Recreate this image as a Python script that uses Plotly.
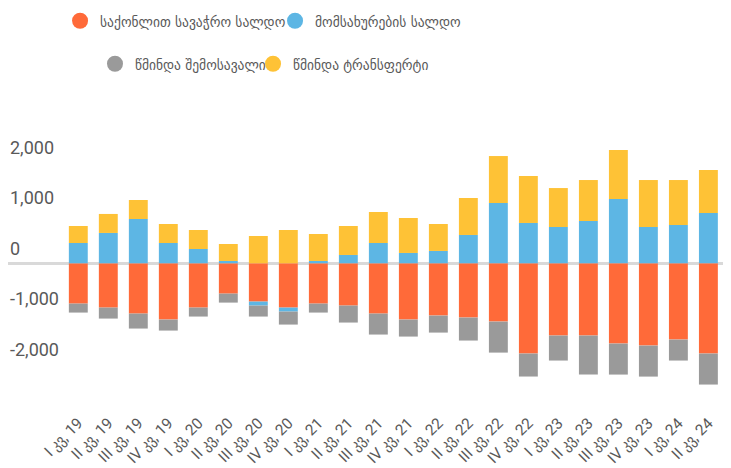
import plotly.graph_objects as go

categories = ["I კვ, 19", "II კვ, 19", "III კვ, 19", "IV კვ, 19",
              "I კვ, 20", "II კვ, 20", "III კვ, 20", "IV კვ, 20",
              "I კვ, 21", "II კვ, 21", "III კვ, 21", "IV კვ, 21",
              "I კვ, 22", "II კვ, 22", "III კვ, 22", "IV კვ, 22",
              "I კვ, 23", "II კვ, 23", "III კვ, 23", "IV კვ, 23",
              "I კვ, 24", "II კვ, 24"]

goods_balance = [-800, -879, -998, -1117, -879, -602, -760, -879, -800, -839, -998,
                 -1117, -1038, -1077, -1157, -1791, -1434, -1434, -1593, -1633, -1514, -1791]
services_balance = [403, 602, 879, 403, 284, 46, -79, -79, 46, 165, 403,
                    205, 245, 562, 1196, 800, 720, 839, 1276, 720, 760, 998]
net_income = [-178, -218, -297, -218, -178, -178, -218, -258, -178, -337, -416,
              -337, -337, -456, -615, -456, -496, -773, -615, -615, -416, -615]
net_transfers = [337, 377, 377, 377, 377, 337, 542, 661, 535, 575, 615,
                 694, 535, 734, 932, 932, 773, 813, 972, 932, 892, 853]

series_names = ["საქონლით სავაჭრო სალდო", "მომსახურების სალდო",
                "წმინდა შემოსავალი", "წმინდა ტრანსფერტი"]
colors = ["#FF6A39", "#5DB6E4", "#9A9A9A", "#FEC236"]
legend_ids = ["legend", "legend2", "legend3", "legend4"]

y_tick_vals = [2000, 1000, 0, -1000, -2000]
y_tick_text = [f"{v:,}" for v in y_tick_vals]

FONT = "Roboto, DejaVu Sans Condensed, DejaVu Sans"
GEO_FONT = "DejaVu Sans Condensed, DejaVu Sans"
TXT = "#595959"

fig = go.Figure()
data = [goods_balance, services_balance, net_income, net_transfers]
for vals, name, col in zip(data, series_names, colors):
    fig.add_trace(go.Bar(x=list(range(len(categories))), y=vals, name=name,
                         marker=dict(color=col, line=dict(width=0)),
                         showlegend=False))

# legend entries with round markers
for name, col, lg in zip(series_names, colors, legend_ids):
    fig.add_trace(go.Scatter(x=[None], y=[None], mode="markers", name=name,
                             marker=dict(symbol="circle", size=16, color=col),
                             legend=lg, showlegend=True))

legend_common = dict(orientation="h", xanchor="left", yanchor="middle",
                     xref="container", yref="container",
                     font=dict(family=GEO_FONT, size=15, color=TXT),
                     bgcolor="rgba(0,0,0,0)", itemclick=False,
                     tracegroupgap=0, itemwidth=30)

# y tick labels sit above their (invisible) gridlines, left-aligned
annotations = [dict(x=0, xref="paper", xanchor="left", y=v, yref="y",
                    yanchor="middle", yshift=15, text=t, showarrow=False,
                    font=dict(family=FONT, size=18, color=TXT))
               for v, t in zip(y_tick_vals, y_tick_text)]

fig.update_layout(
    width=731, height=468,
    template="none",
    margin=dict(l=0, r=0, t=92, b=66, pad=0, autoexpand=False),
    paper_bgcolor="white", plot_bgcolor="white",
    barmode="relative", bargap=0.37,
    font=dict(family=FONT, color=TXT),
    legend=dict(x=0.0712, y=0.9722, **legend_common),
    legend2=dict(x=0.3653, y=0.9722, **legend_common),
    legend3=dict(x=0.119, y=0.8803, **legend_common),
    legend4=dict(x=0.3352, y=0.8803, **legend_common),
    annotations=annotations,
    xaxis=dict(range=[-2.343, 22.02], tickmode="array",
               tickvals=list(range(len(categories))), ticktext=categories,
               tickangle=-45, tickfont=dict(family=FONT, size=15.5, color=TXT),
               showgrid=False, zeroline=False, showline=False, ticks="",
               ticklen=0, automargin=False),
    yaxis=dict(range=[-2911, 3240], showticklabels=False,
               showgrid=False, zeroline=True, zerolinecolor="#D9D9D9",
               zerolinewidth=3, showline=False, ticks="", automargin=False),
)

fig.write_html("out.html")
